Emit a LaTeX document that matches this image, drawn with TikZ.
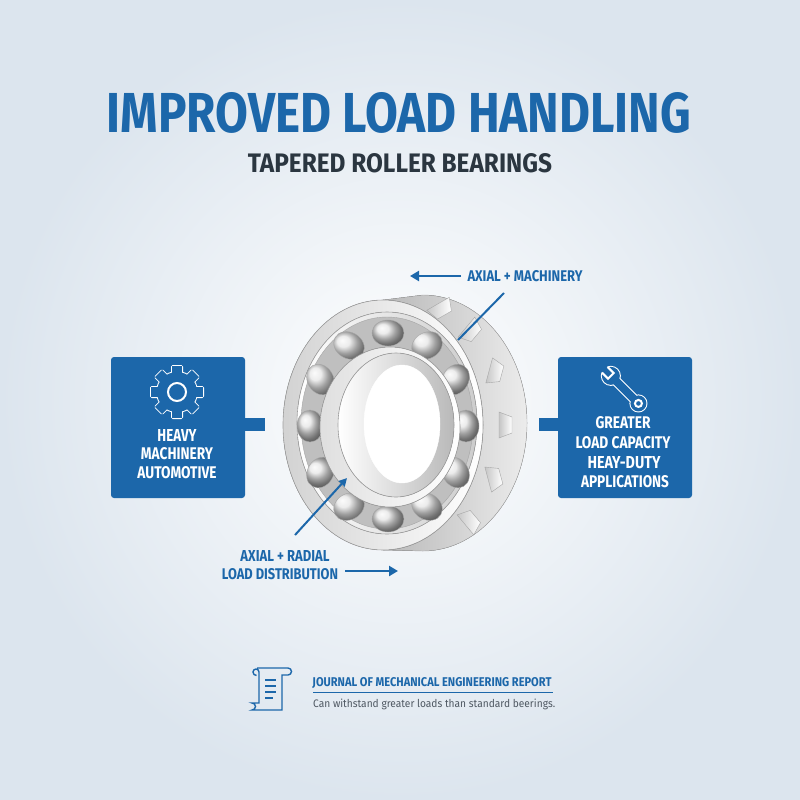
\documentclass[tikz,border=0pt]{standalone}
\usepackage{fontspec}
\setmainfont[FakeStretch=0.75]{Fira Sans}
\usepackage{graphicx}
\usetikzlibrary{arrows.meta,shapes.geometric}
\definecolor{bl}{HTML}{1C67AA}
\definecolor{dk}{HTML}{2B3640}
\definecolor{gy}{HTML}{4F5862}
\definecolor{bg}{HTML}{DCE5EE}
\newcommand{\fit}[3]{\resizebox{#1pt}{#2pt}{#3}}
\tikzset{
 txt/.style={inner sep=0pt,anchor=center},
 box/.style={fill=bl,rounded corners=3pt,draw=none},
 arr/.style={draw=bl,line width=2.6pt,-{Triangle[length=9pt,width=10pt]}},
 lead/.style={draw=bl,line width=2pt},
 steel/.style={draw=gray!75,line width=0.6pt},
}
\begin{document}
\begin{tikzpicture}[x=1pt,y=-1pt]
\useasboundingbox (0,0) rectangle (800,800);
\fill[inner color=white,outer color=bg] (0,0) rectangle (800,800);
% titles
\node[txt,text=bl] (title) at (399,113) {\fit{584}{40}{\bfseries IMPROVED LOAD HANDLING}};
\node[txt,text=dk] (sub) at (400,163) {\fit{304}{19}{\bfseries TAPERED ROLLER BEARINGS}};
% side boxes
\path[box] (111,357) rectangle (245,498);
\path[box] (558,357) rectangle (692,498);
\fill[bl] (244,418) rectangle (265,431);
\fill[bl] (539,418) rectangle (559,431);
% gear
\begin{scope}[shift={(177,392)}]
 \foreach \a in {0,45,...,315}{\draw[white,line width=2pt,rotate=\a,rounded corners=1pt] (-5,-26) rectangle (5,-14);}
 \draw[white,line width=2pt] (0,0) circle (20pt);
 \foreach \a in {0,45,...,315}{\fill[bl,rotate=\a] (-5,-26) rectangle (5,-14);}
 \fill[bl] (0,0) circle (20pt);
 \draw[white,line width=2pt] (0,0) circle (9pt);
\end{scope}
% wrench
\begin{scope}[shift={(625,390)},rotate=45]
 \draw[white,line width=2pt,rounded corners=2pt] (-4,-14) rectangle (4,14);
 \draw[white,line width=2pt] (0,-20) circle (9pt);
 \draw[white,line width=2pt] (0,19) circle (8pt);
 \fill[bl,rounded corners=2pt] (-4,-14) rectangle (4,14);
 \fill[bl] (0,-20) circle (9pt);
 \fill[bl] (0,19) circle (8pt);
 \fill[bl] (-4,-32) rectangle (4,-20);
 \draw[white,line width=2pt] (-4,-28.5) -- (-4,-20) -- (4,-20) -- (4,-28.5);
 \draw[white,line width=2pt] (0,19) circle (3.5pt);
\end{scope}
% box texts
\node[txt,text=white] (l1) at (177,435) {\fit{39}{12}{\bfseries HEAVY}};
\node[txt,text=white] (l2) at (177,454) {\fit{72}{12}{\bfseries MACHINERY}};
\node[txt,text=white] (l3) at (177,473) {\fit{79}{12}{\bfseries AUTOMOTIVE}};
\node[txt,text=white] (r1) at (623,423) {\fit{55}{12}{\bfseries GREATER}};
\node[txt,text=white] (r2) at (623,443) {\fit{95}{12}{\bfseries LOAD CAPACITY}};
\node[txt,text=white] (r3) at (624,463) {\fit{73}{12}{\bfseries HEAY-DUTY}};
\node[txt,text=white] (r4) at (625,482) {\fit{88}{12}{\bfseries APPLICATIONS}};
% bearing
\fill[left color=gray!55,right color=gray!15,draw=gray!70] (383,300) -- (423,295) arc[start angle=90,end angle=-90,x radius=104pt,y radius=128pt] -- (383,550) arc[start angle=-90,end angle=90,x radius=100pt,y radius=125pt];
\foreach \x/\y/\r in {441/309/-60,471/331/-40,495/372/-15,505/425/0,494/478/15,470/521/40}{
 \draw[gray!70,left color=gray!45,right color=white,rotate around={\r:(\x,\y)}] (\x-6,\y-13) -- (\x+7,\y-8) -- (\x+7,\y+8) -- (\x-6,\y+13) -- cycle;}
\fill[steel,left color=gray!35,right color=white] (383,425) ellipse[x radius=100pt,y radius=125pt];
\fill[steel,left color=white,right color=gray!40] (387,423) ellipse[x radius=90pt,y radius=111pt];
\fill[gray!50,draw=gray!70] (387,423) ellipse[x radius=86pt,y radius=106pt];
\foreach \a in {0,30,...,330}{
 \shade[ball color=gray!20,draw=gray!70,rotate around={\a:({388+78*cos(\a)},{426+93*sin(\a)})}] ({388+78*cos(\a)},{426+93*sin(\a)}) ellipse[x radius=13pt,y radius=16pt];}
\fill[steel,left color=gray!25,right color=white] (390,427) ellipse[x radius=70pt,y radius=80pt];
\fill[steel,left color=white,right color=gray!55] (396,425) ellipse[x radius=58pt,y radius=72pt];
\fill[draw=gray!70,white] (402,424) ellipse[x radius=38pt,y radius=59pt];
% labels and leaders
\node[txt,text=bl] (top) at (525,276) {\fit{115}{11}{\bfseries AXIAL + MACHINERY}};
\coordinate (ta) at (461,276);
\coordinate (tb) at (410,276);
\draw[arr] (ta) -- (tb);
\coordinate (t1) at (504,293);
\coordinate (t2) at (458,340);
\draw[lead] (t1) -- (t2);
\node[txt,text=bl] (b1) at (285,556) {\fit{89}{11}{\bfseries AXIAL + RADIAL}};
\node[txt,text=bl] (b2) at (280,574) {\fit{116}{11}{\bfseries LOAD DISTRIBUTION}};
\coordinate (bs) at (295,535);
\coordinate (be) at (347,478);
\draw[lead,-{Triangle[length=8pt,width=8pt]}] (bs) -- (be);
\coordinate (ba) at (345,571);
\coordinate (bb) at (398,571);
\draw[arr] (ba) -- (bb);
% footer
\begin{scope}[draw=bl,line width=1.4pt]
 \draw (257,668) -- (288,668) arc[start angle=90,end angle=-90,radius=3.5pt] -- (282,675) -- (282,710) -- (252,710) arc[start angle=-90,end angle=90,radius=3.5pt] -- (259,703) -- (259,672) arc[start angle=0,end angle=180,radius=3pt] arc[start angle=180,end angle=270,radius=3.5pt];
 \draw (265,680) -- (276,680) (265,686) -- (276,686) (265,692) -- (276,692) (265,698) -- (273,698);
\end{scope}
\node[txt,text=bl] (jt) at (432,683) {\fit{239}{9}{\bfseries JOURNAL OF MECHANICAL ENGINEERING REPORT}};
\draw[bl,line width=0.8pt] (313,692) -- (553,692);
\node[txt,text=gy,anchor=west] (jb) at (313,704) {\fit{242}{8.5}{Can withstand greater loads than standard beerings.}};
\end{tikzpicture}
\end{document}
